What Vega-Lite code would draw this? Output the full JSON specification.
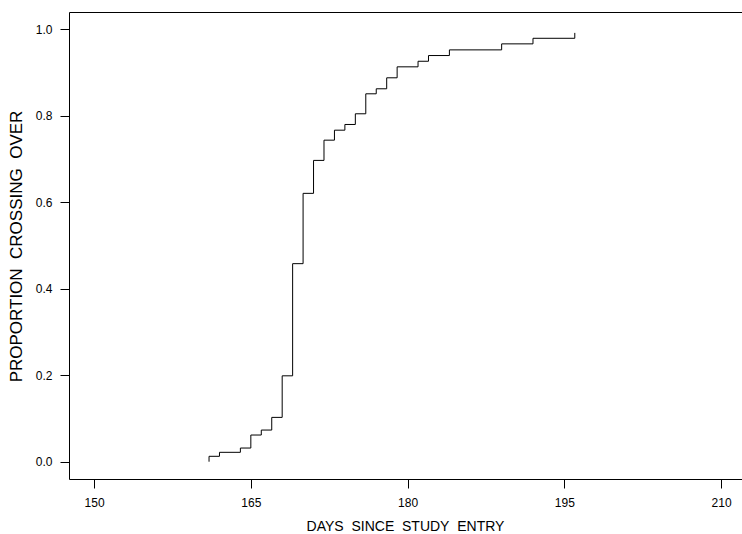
{
  "$schema": "https://vega.github.io/schema/vega-lite/v6.json",
  "width": 673,
  "height": 467,
  "autosize": {"type": "none"},
  "padding": {"left": 69, "top": 12, "right": 0, "bottom": 55},
  "background": "white",
  "config": {
    "view": {"stroke": null},
    "font": "Liberation Sans",
    "axis": {
      "grid": false,
      "domainColor": "black",
      "domainWidth": 1,
      "tickColor": "black",
      "tickWidth": 1,
      "tickSize": 9,
      "labelColor": "black",
      "labelFontSize": 12,
      "labelFont": "Liberation Sans",
      "titleColor": "black",
      "titleFont": "Liberation Sans",
      "titleFontWeight": "normal"
    }
  },
  "data": {
    "values": [
      {"day": 161, "p": 0.0},
      {"day": 161, "p": 0.0125},
      {"day": 162, "p": 0.0217},
      {"day": 164, "p": 0.0316},
      {"day": 165, "p": 0.0617},
      {"day": 166, "p": 0.0732},
      {"day": 167, "p": 0.1025},
      {"day": 168, "p": 0.1986},
      {"day": 169, "p": 0.458},
      {"day": 170, "p": 0.6206},
      {"day": 171, "p": 0.6968},
      {"day": 172, "p": 0.7436},
      {"day": 173, "p": 0.7667},
      {"day": 174, "p": 0.7799},
      {"day": 175, "p": 0.8046},
      {"day": 176, "p": 0.8508},
      {"day": 177, "p": 0.8624},
      {"day": 178, "p": 0.8878},
      {"day": 179, "p": 0.9132},
      {"day": 181, "p": 0.9261},
      {"day": 182, "p": 0.9393},
      {"day": 184, "p": 0.9524},
      {"day": 189, "p": 0.9663},
      {"day": 192, "p": 0.9792},
      {"day": 196, "p": 0.9917}
    ]
  },
  "layer": [
    {
      "mark": {"type": "line", "interpolate": "step-after", "color": "black", "strokeWidth": 1},
      "encoding": {
        "x": {
          "field": "day",
          "type": "quantitative",
          "scale": {"domain": [147.6, 212.0], "nice": false, "zero": false},
          "axis": {
            "orient": "bottom",
            "values": [150, 165, 180, 195, 210],
            "labelPadding": 9,
            "title": "DAYS\u00a0\u00a0SINCE\u00a0\u00a0STUDY\u00a0\u00a0ENTRY",
            "titleFontSize": 14,
            "titleX": 336,
            "titleY": 47,
            "titleAlign": "center",
            "titleBaseline": "middle"
          }
        },
        "y": {
          "field": "p",
          "type": "quantitative",
          "scale": {"domain": [-0.04, 1.04], "nice": false, "zero": false},
          "axis": {
            "orient": "left",
            "values": [0, 0.2, 0.4, 0.6, 0.8, 1.0],
            "format": ".1f",
            "labelPadding": 8,
            "title": "PROPORTION\u00a0\u00a0CROSSING\u00a0\u00a0OVER",
            "titleFontSize": 17,
            "titleAngle": 270,
            "titleX": -53,
            "titleY": 234,
            "titleAlign": "center",
            "titleBaseline": "middle"
          }
        }
      }
    },
    {
      "mark": {"type": "line", "opacity": 0},
      "encoding": {
        "x": {
          "field": "day",
          "type": "quantitative",
          "axis": {"orient": "top", "ticks": false, "labels": false, "title": null, "domain": true}
        },
        "y": {"field": "p", "type": "quantitative"}
      }
    }
  ],
  "resolve": {"axis": {"x": "independent"}}
}
